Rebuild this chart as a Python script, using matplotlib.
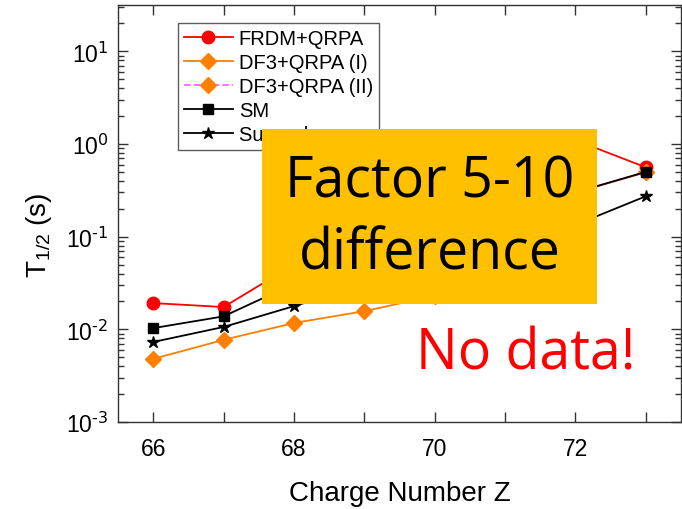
import math
import matplotlib
matplotlib.use("Agg")
import matplotlib.pyplot as plt
from matplotlib.patches import Rectangle
from matplotlib.ticker import FixedLocator, LogLocator, FuncFormatter, NullFormatter

plt.rcParams['font.family'] = ['Liberation Sans', 'DejaVu Sans']
plt.rcParams['mathtext.default'] = 'regular'
plt.rcParams['axes.unicode_minus'] = False

# Data (half-lives in seconds vs charge number Z)
z_frdm = [66, 67, 68, 69, 70, 71, 72, 73]
t_frdm = [0.0192, 0.0174, 0.05, 0.12, 0.3, 0.6, 1.1, 0.56]

z_df3_1 = [66, 67, 68, 69, 70, 71, 72, 73]
t_df3_1 = [0.0048, 0.0077, 0.0117, 0.0157, 0.023, 0.07, 0.3, 0.495]

z_df3_2 = [71, 72, 73]
t_df3_2 = [0.1, 0.3, 0.5]

z_sm = [66, 67, 68, 69, 70, 71, 72, 73]
t_sm = [0.0103, 0.0138, 0.031, 0.06, 0.1, 0.18, 0.3, 0.5]

z_sum = [66, 67, 68, 69, 70, 71, 72, 73]
t_sum = [0.0073, 0.0106, 0.0178, 0.03, 0.05, 0.08, 0.134, 0.273]

labels = ['FRDM+QRPA', 'DF3+QRPA (I)', 'DF3+QRPA (II)', 'SM', 'Sum rule']
xticks = [66, 67, 68, 69, 70, 71, 72, 73]

fig = plt.figure(figsize=(6.82, 5.10), dpi=100)
ax = fig.add_axes([118/682, (510-423)/510, (681-118)/682, (423-6)/510])

ax.plot(z_frdm, t_frdm, '-o', color='#FF0000', lw=1.3, ms=9, label=labels[0], zorder=3)
ax.plot(z_df3_1, t_df3_1, '-D', color='#FF7F00', lw=1.3, ms=8, label=labels[1], zorder=3)
ax.plot(z_df3_2, t_df3_2, '--D', color='#FF66FF', lw=1.3, ms=8, mfc='#FF7F00', mec='#FF7F00',
        label=labels[2], zorder=3)
ax.plot(z_sm, t_sm, '-s', color='black', lw=1.3, ms=7.5, label=labels[3], zorder=4)
ax.plot(z_sum, t_sum, '-*', color='black', lw=1.3, ms=9, label=labels[4], zorder=4)

ax.set_yscale('log')
ax.set_ylim(1e-3, 10**1.5)
ax.set_xlim(65.5, 73.5)


def ylab(v, p):
    e = int(round(math.log10(v)))
    return r"$10^{\text{%d}}$" % e


ax.xaxis.set_major_locator(FixedLocator(xticks))
ax.xaxis.set_major_formatter(FuncFormatter(lambda v, p: f"{int(round(v))}" if int(round(v)) % 2 == 0 else ""))
ax.yaxis.set_major_locator(LogLocator(base=10, numticks=10))
ax.yaxis.set_minor_locator(LogLocator(base=10, subs=range(2, 10), numticks=20))
ax.yaxis.set_minor_formatter(NullFormatter())
ax.yaxis.set_major_formatter(FuncFormatter(ylab))

ax.tick_params(which='major', direction='in', length=7, width=1, top=True, right=True,
               labelsize=16.5, color='#333333')
ax.tick_params(axis='x', which='major', pad=11)
ax.tick_params(axis='y', which='major', pad=7)
ax.tick_params(which='minor', direction='in', length=4, width=1, top=True, right=True, color='#333333')
for s in ax.spines.values():
    s.set_color('#333333')
    s.set_linewidth(1)

ax.set_xlabel('Charge Number Z', fontsize=20, labelpad=14)
ax.set_ylabel(r'T$_{1/2}$ (s)', fontsize=20)
ax.yaxis.set_label_coords(-0.114, 0.45)

leg = ax.legend(loc='upper left', bbox_to_anchor=(0.107, 0.958), fontsize=14.5, frameon=True,
                fancybox=False, edgecolor='#333333', handlelength=2.4, borderpad=0.3,
                labelspacing=0.25, handletextpad=0.3, borderaxespad=0)
leg.get_frame().set_linewidth(1)

# Overlay annotation box
rect = Rectangle((262/682, (510-305)/510), (597-262)/682, (305-130)/510, transform=fig.transFigure,
                 facecolor='#FFC000', edgecolor='none', zorder=10)
fig.patches.append(rect)
fig.text((262+597)/2/682, (510-219)/510, 'Factor 5-10\ndifference', ha='center', va='center',
         fontsize=40, family=['Open Sans', 'DejaVu Sans'], color='black', linespacing=1.37, zorder=11)
fig.text((417+634)/2/682, (510-355)/510, 'No data!', ha='center', va='center',
         fontsize=40, family=['Open Sans', 'DejaVu Sans'], color='#FF0000', zorder=11)

fig.savefig('out.png', dpi=100)
